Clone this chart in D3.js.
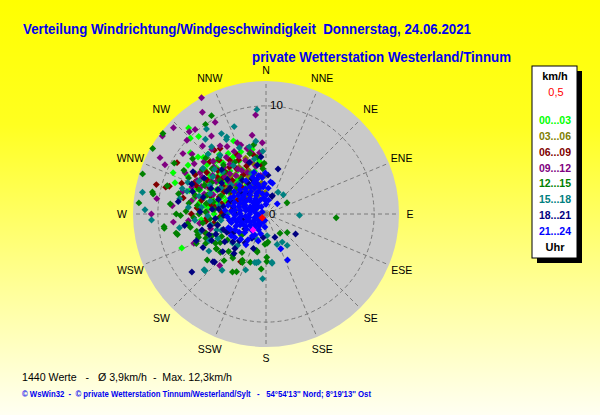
<!DOCTYPE html>
<html><head><meta charset="utf-8">
<script src="https://cdn.jsdelivr.net/npm/d3@7"></script>
<style>html,body{margin:0;padding:0;background:#fff}svg{display:block}</style>
</head><body>
<script>
// ---- data: [direction deg (from N, clockwise), speed km/h] per 3-hour block ----
const dirLabels = ["N","NNE","NE","ENE","E","ESE","SE","SSE","S","SSW","SW","WSW","W","WNW","NW","NNW"];
const ringValues = [10];
const hourLabels = ["00...03","03...06","06...09","09...12","12...15","15...18","18...21","21...24"];
const hourColors = ["#00FF00","#808000","#800000","#800080","#008000","#008080","#000080","#0000FF"];
const calmLabel = "0,5";
const maxSpeed = 12.3;

const h00 = [[318,10.7],[336,7.4],[309,9],[294,9.4],[289,8.9],[248,8.4],[319,9.5],[315,9.9],[311,5.4],[318,6.7],[299,6.1],[290,6.5],[292,7.3],[285,8],[278,5.7],[283,4.6],
[315,6.8],[320,6.2],[310,7.1],[305,6.5],[312,5.9],[325,5.5],[330,6.1],[300,7.6],[298,6.3],[303,5.4],[318,4.8],[322,4.2],[308,4.5],[296,5.1],[290,6.8],[285,5.9],[292,4.3],[300,3.8],[314,3.6],[326,3.2],[332,4.6],[340,5.2],[345,4.1],[310,8.2],[316,7.7],[302,8.5],[287,7.4],[280,6.2],[276,5.3],[284,4.6],[295,3.2],[305,2.9],[270,4.8],[265,6.0],[320,5.2],[313,6.3],[307,3.5],[299,4.7],[288,3.9],
[322,7.0],[328,6.6],[312,7.8],[306,7.0],[297,6.9],[293,5.6],[281,6.9],[274,6.1],[286,5.2],[310,4.9],[317,4.1],[327,4.8],[333,5.5],[338,6.2],[303,6.1],[296,8.1],[300,4.3],[294,3.6],[308,5.7],[316,5.1],[348,6.1],[353,4.9]];
const h03 = [[335,3.8],[330,2.5],[340,3.2],[320,3.0],[345,2.2],[350,3.5],[325,4.1],[315,3.4],[310,2.8],[338,4.4],[355,2.7],[332,1.8],[318,2.2],[305,3.6],[300,2.5],[328,3.5],[342,2.6],[312,4.0],[322,4.6],[348,1.5],[336,2.9],[295,3.0],[290,2.2],[326,1.4],[358,2.0],[303,4.4],[316,4.8],[330,5.0],[285,3.3],[280,2.6],
[333,4.2],[327,2.8],[352,2.9],[344,3.9],[320,3.7],[312,2.3],[308,3.3],[298,3.6],[346,4.8],[339,1.9],[340,5.5],[356,3.5]];
const h06 = [[300,9.5],[285,10.5],[286,9.3],[281,7.8],[208,5],[334,6.1],[344,6.3],[321,7.6],[305,6.7],[299,7.5],[285,9.6],[325,7.4],[326,6],[266,5.5],[266,4.3],[253,5.9],[310,5.2],[315,4.4],[295,5.8],[290,4.6],[302,3.9],[318,3.3],[330,4.2],[308,3.1],[280,5.2],[275,6.4],[292,6.9],[312,6.0],[298,4.4],[287,3.6],[276,3.2],[322,5.5],[338,4.8],[305,2.5],[296,2.9],[270,6.9],[260,4.9],[245,3.8],[230,2.9],[283,4.2],
[313,7.1],[319,6.6],[307,5.6],[300,6.3],[294,7.2],[288,5.4],[282,6.1],[278,4.8],[272,4.1],[263,5.6],[303,4.8],[316,5.4],[327,5.0],[333,5.6],[290,8.3],[348,5.6],[355,4.5]];
const h09 = [[331,12.3],[354,9.2],[328,11.1],[331,9.7],[313,11.7],[307,12],[317,10.4],[320,10.2],[325,8.8],[313,10],[354,5.7],[298,11.1],[344,6.3],[296,10.4],[306,9.5],[317,8.6],[338,7.1],[343,5],[278,10.2],[270,10.6],[265,8.6],[248,7.2],[222,6.4],[296,7.1],[265,7.2],
[320,7.8],[315,6.9],[310,7.5],[305,8.1],[300,6.8],[325,6.4],[330,7.2],[335,5.9],[340,6.8],[318,5.8],[312,5.1],[303,5.5],[295,6.2],[290,7.3],[285,8.0],[280,7.0],[275,8.7],[328,4.9],[336,4.2],[322,4.5],[308,4.2],[298,4.9],[290,5.2],[348,4.5],[352,3.6],[342,3.0],[315,3.8],[306,6.1],[288,6.0],[272,5.5],[262,6.2],[255,5.3],
[326,7.6],[333,6.5],[312,6.5],[309,8.8],[302,7.2],[297,8.4],[293,6.5],[284,6.7],[318,5.0],[311,4.6],[324,5.7],[331,4.6],[339,5.3],[346,5.9],[301,5.9],[357,6.6],[350,7.4]];
const h12 = [[326,10],[308,12.1],[300,12.1],[331,10.4],[288,12],[299,9.7],[307,8.5],[286,9.5],[281,10.7],[280,10.6],[276,8.9],[270,8.3],[269,7.9],[263,9.5],[258,8.5],[263,7.3],[251,6.6],[247,7],[235,5.6],[238,5],[232,6.9],[210,6.2],[198,4.7],[179,4],[185,5.1],[212,4.2],[194,3.5],[229,3],[176,2.6],[93,6.5],[131,2.6],[144,2.2],[182,2.8],[62,2.2],[275,11.8],[262,9.5],[257,8.4],[351,5.3],[358,4.7],
[240,5.4],[230,5.5],[219,4.9],[207,6],[206,5],[193,3.6],[178,2.7],[179,4.4],[253,6.6],[195,3.5],[207,4.8],[217,5.1],[235,5.6],[248,5.4],[248,6],[319,6],[329,5.6],
[310,6.5],[300,5.8],[290,6.6],[305,7.2],[315,5.5],[320,6.8],[295,7.9],[285,6.8],[280,5.6],[275,4.8],[270,6.2],[265,5.2],[260,7.1],[292,4.5],[302,4.0],[312,3.6],[325,4.0],[298,8.6],[283,8.3],
[278,7.2],[272,7.4],[267,6.7],[262,5.9],[256,6.6],[252,5.8],[244,6.2],[288,5.7],[283,5.0],[277,6.4],[295,6.3],[306,5.3],[313,7.6],[258,4.6],[243,4.6],[236,4.3],[225,4.9],[222,5.8],[266,4.2],[272,5.6],[345,5.8],[350,6.5],[356,4.2]];
const h15 = [[355,9.7],[325,9.6],[340,8.6],[331,8.5],[333,8],[321,8.9],[321,8],[280,11.6],[287,8.1],[346,6.4],[338,6.6],[272,11.2],[267,10.6],[261,8.1],[252,4.8],[229,4.1],[228,7.7],[218,6.6],[200,5.5],[191,4.6],[183,6],[173,4.6],[227,7.7],[92,3.1],[160,3],[150,3],[146,3.5],[173,4.5],[29,2.3],[42,2.4],[222,3.9],[199,2.5],[177,2.0],[189,4.5],[193,4.6],[332,7.8],[280,8.1],
[316,7.7],[314,5.6],[296,6.9],[286,7.6],[305,6.0],[300,4.8],[310,4.2],[290,5.5],[280,4.4],[270,3.6],[262,4.2],[255,6.2],[245,5.8],[275,7.2],[320,3.8],[330,3.1],[340,4.0],
[297,5.8],[285,6.4],[276,6.0],[268,5.4],[259,5.2],[250,4.4],[243,5.0],[237,6.3],[306,7.2],[311,6.3],[322,6.9],[326,5.4],[292,7.8],[283,5.3],[265,6.6],[348,5.2],[352,6.8],[357,5.8]];
const h18 = [[124,3.3],[159,2.3],[19,1.8],[3,3.6],[15,4.3],[19,1.7],[242,6.6],[228,6.6],[229,5.3],[219,4.7],[232,8.7],[216,3.3],[249,6.9],[187,2.2],[227,6.5],[250,5.6],[300,7.8],[287,7.1],[256,6.1],
[300,4.2],[290,3.5],[280,4.0],[270,2.8],[260,3.4],[250,4.2],[310,3.0],[320,2.4],[305,5.0],[295,5.6],[285,6.0],[275,5.0],[265,4.7],[240,3.5],[235,2.4],[255,2.2],[330,3.3],[345,2.8],[315,5.8],[300,6.6],[292,7.4],[278,8.2],[262,7.6],[248,5.0],[225,3.5],[210,2.6],[200,3.4],
[282,3.1],[276,4.4],[268,3.9],[257,4.6],[245,4.0],[236,4.6],[230,4.0],[287,4.6],[297,5.0],[306,4.1],[312,4.8],[325,3.8],[338,3.5],[272,6.1],[258,5.3],[244,5.6],[222,4.3],[350,4.6],[355,5.3],[342,5.0]];
const h21 = [[155,4.7],[157,3.5],[48,1.4],[354,2.5],[344,4.0],
[209,1.2],[235,1.8],[247,2.6],[260,3.4],[277,2.9],[293,2.1],[309,1.3],[320,2.3],[313,3.3],[345,2.8],[354,3.4],[356,1.3],[297,0.4],[229,2.6],[243,3.2],[208,2.2],[283,3.6],
[220,1.5],[230,0.9],[240,1.3],[250,1.9],[255,2.8],[265,2.3],[270,1.5],[275,3.8],[280,1.9],[285,2.6],[290,3.1],[295,1.6],[300,2.7],[305,3.6],[310,2.0],[315,1.0],[325,1.7],[330,2.9],[335,2.1],[340,3.6],[350,1.9],[0,0.9],[5,2.4],[10,1.3],[200,0.8],[215,2.9],[225,3.3],[238,2.2],[252,1.1],[262,0.7],[268,2.9],[273,0.9],[288,1.2],[298,3.4],[303,1.0],[318,2.8],[328,0.8],[338,1.4],[345,3.3],[195,1.9],[185,1.2],[238,3.8],[250,3.7],[262,3.0],
[205,1.6],[212,2.4],[218,1.1],[222,2.0],[227,1.4],[232,2.3],[236,3.0],[242,1.6],[245,2.3],[248,3.0],[252,2.4],[256,3.3],[258,1.6],[264,1.9],[266,3.6],[271,2.4],[274,3.2],[278,2.4],[281,1.4],[284,3.1],[287,2.1],[291,2.6],[294,3.6],[296,2.3],[299,1.3],[302,2.2],[304,3.1],[307,2.6],[311,2.7],[314,2.1],[317,3.6],[321,3.0],[323,1.3],[326,2.5],[329,3.6],[332,1.9],[336,2.6],[339,3.1],[342,2.2],[347,2.5],[349,3.6],[352,1.5],[357,2.8],[359,3.8],[213,3.4],[233,3.6],[247,3.6],[260,2.6],[284,1.7],[312,1.6],[2,1.8],[8,3.0],[196,2.6],[190,0.6],[245,0.6],[12,2.9]];
const trendPoint = [[219,1.9]];
const calmPoint = [[225,0.5]];
const series = [h00,h03,h06,h09,h12,h15,h18,h21];

const titleText = "Verteilung Windrichtung/Windgeschwindigkeit  Donnerstag, 24.06.2021";
const subtitleText = "private Wetterstation Westerland/Tinnum";
const statsText = "1440 Werte   -   \u00D8 3,9km/h  -  Max. 12,3km/h";
const footerText = "\u00A9 WsWin32  -  \u00A9 private Wetterstation Tinnum/Westerland/Sylt   -   54\u00B054'13'' Nord; 8\u00B019'13'' Ost";

// ---- drawing ----
const W = 600, H = 415;
const svg = d3.select("body").append("svg").attr("width", W).attr("height", H)
  .style("font-family", "'Liberation Sans', Arial, sans-serif");

const defs = svg.append("defs");
const grad = defs.append("linearGradient").attr("id","bg").attr("x1",0).attr("y1",0).attr("x2",0).attr("y2",1);
grad.append("stop").attr("offset","0").attr("stop-color","#FFFF00");
grad.append("stop").attr("offset","0.3").attr("stop-color","#FFFF20");
grad.append("stop").attr("offset","0.7").attr("stop-color","#FFFF9A");
grad.append("stop").attr("offset","1").attr("stop-color","#FFFFF2");
svg.append("rect").attr("width",W).attr("height",H).attr("fill","url(#bg)");

const cx = 266, cy = 214, R = 133;
const r = d3.scaleLinear().domain([0, maxSpeed]).range([0, R]);
const ang = d3.scaleLinear().domain([0, 360]).range([0, 2*Math.PI]);
const px = d => cx + r(d[1]) * Math.sin(ang(d[0]));
const py = d => cy - r(d[1]) * Math.cos(ang(d[0]));

const g = svg.append("g");
g.append("circle").attr("cx",cx).attr("cy",cy).attr("r",R).attr("fill","#C9C9C9");

// spokes
g.selectAll("line.spoke").data(dirLabels).join("line").attr("class","spoke")
  .attr("x1",cx).attr("y1",cy)
  .attr("x2",(d,i)=>px([i*22.5, maxSpeed])).attr("y2",(d,i)=>py([i*22.5, maxSpeed]))
  .attr("stroke","#7a7a7a").attr("stroke-dasharray","4,3").attr("stroke-width",1);
// rings
g.selectAll("circle.ring").data(ringValues).join("circle").attr("class","ring")
  .attr("cx",cx).attr("cy",cy).attr("r",d=>r(d)).attr("fill","none")
  .attr("stroke","#7a7a7a").attr("stroke-dasharray","4,3");

// direction labels
g.selectAll("text.dir").data(dirLabels).join("text").attr("class","dir")
  .each(function(d,i){
    const a = ang(i*22.5);
    const lr = 144 + 4*Math.abs(Math.sin(2*a));
    d3.select(this).attr("x", cx + lr*Math.sin(a)).attr("y", cy - lr*Math.cos(a) + 3.7);
  })
  .attr("text-anchor","middle").attr("font-size",10.5).attr("fill","#000").text(d=>d);

// points
const sym = d3.symbol().type(d3.symbolSquare).size(24);
series.forEach((s, k) => {
  g.append("g").selectAll("path").data(s).join("path")
    .attr("d", sym)
    .attr("transform", d => `translate(${px(d)},${py(d)}) rotate(45)`)
    .attr("fill", hourColors[k]);
});
g.append("g").selectAll("path").data(trendPoint).join("path").attr("d", sym)
  .attr("transform", d => `translate(${px(d)},${py(d)}) rotate(45)`).attr("fill","#FF00FF");
g.append("g").selectAll("path").data(calmPoint).join("path").attr("d", d3.symbol().type(d3.symbolSquare).size(28))
  .attr("transform", d => `translate(${px(d)},${py(d)}) rotate(45)`).attr("fill","#FF0000");

// ring / centre labels
g.selectAll("text.ringlab").data(ringValues).join("text").attr("class","ringlab")
  .attr("x",cx+4).attr("y",d=>cy-r(d)+3).attr("font-size",11.5).attr("fill","#000").text(d=>d);
g.append("text").attr("x",cx+3).attr("y",cy+4).attr("font-size",11.5).attr("fill","#000").text("0");

// titles
svg.append("text").attr("x",23).attr("y",34).attr("font-size",14).attr("font-weight","bold")
  .attr("fill","#0000F0").attr("textLength",448).attr("lengthAdjust","spacingAndGlyphs")
  .style("white-space","pre").text(titleText);
svg.append("text").attr("x",252).attr("y",62).attr("font-size",14).attr("font-weight","bold")
  .attr("fill","#0000F0").attr("textLength",259).attr("lengthAdjust","spacingAndGlyphs").text(subtitleText);

// legend
const lx = 532, ly = 66, lw = 45, lh = 192;
svg.append("rect").attr("x",lx+5).attr("y",ly+5).attr("width",lw).attr("height",lh).attr("fill","#000");
svg.append("rect").attr("x",lx).attr("y",ly).attr("width",lw).attr("height",lh).attr("fill","#fff").attr("stroke","#000");
const lcx = lx + lw/2 + 0.5;
svg.append("text").attr("x",lcx).attr("y",80).attr("text-anchor","middle").attr("font-size",11).attr("font-weight","bold").text("km/h");
svg.append("text").attr("x",lcx+1).attr("y",96).attr("text-anchor","middle").attr("font-size",11).attr("fill","#FF0000").text(calmLabel);
const legY = d3.scaleLinear().domain([0, 7]).range([124, 235]);
svg.append("g").selectAll("text").data(hourLabels).join("text")
  .attr("x",lcx).attr("y",(d,i)=>legY(i)).attr("text-anchor","middle")
  .attr("font-size",10.5).attr("font-weight","bold").attr("fill",(d,i)=>hourColors[i]).text(d=>d);
svg.append("text").attr("x",lcx).attr("y",251).attr("text-anchor","middle").attr("font-size",11).attr("font-weight","bold").text("Uhr");

// bottom texts
svg.append("text").attr("x",22).attr("y",381).attr("font-size",11.5).attr("fill","#000")
  .attr("textLength",210).attr("lengthAdjust","spacingAndGlyphs").style("white-space","pre").text(statsText);
svg.append("text").attr("x",22).attr("y",397).attr("font-size",8.5).attr("font-weight","bold").attr("fill","#0000F0")
  .attr("textLength",349).attr("lengthAdjust","spacingAndGlyphs").style("white-space","pre").text(footerText);
</script>
</body></html>
